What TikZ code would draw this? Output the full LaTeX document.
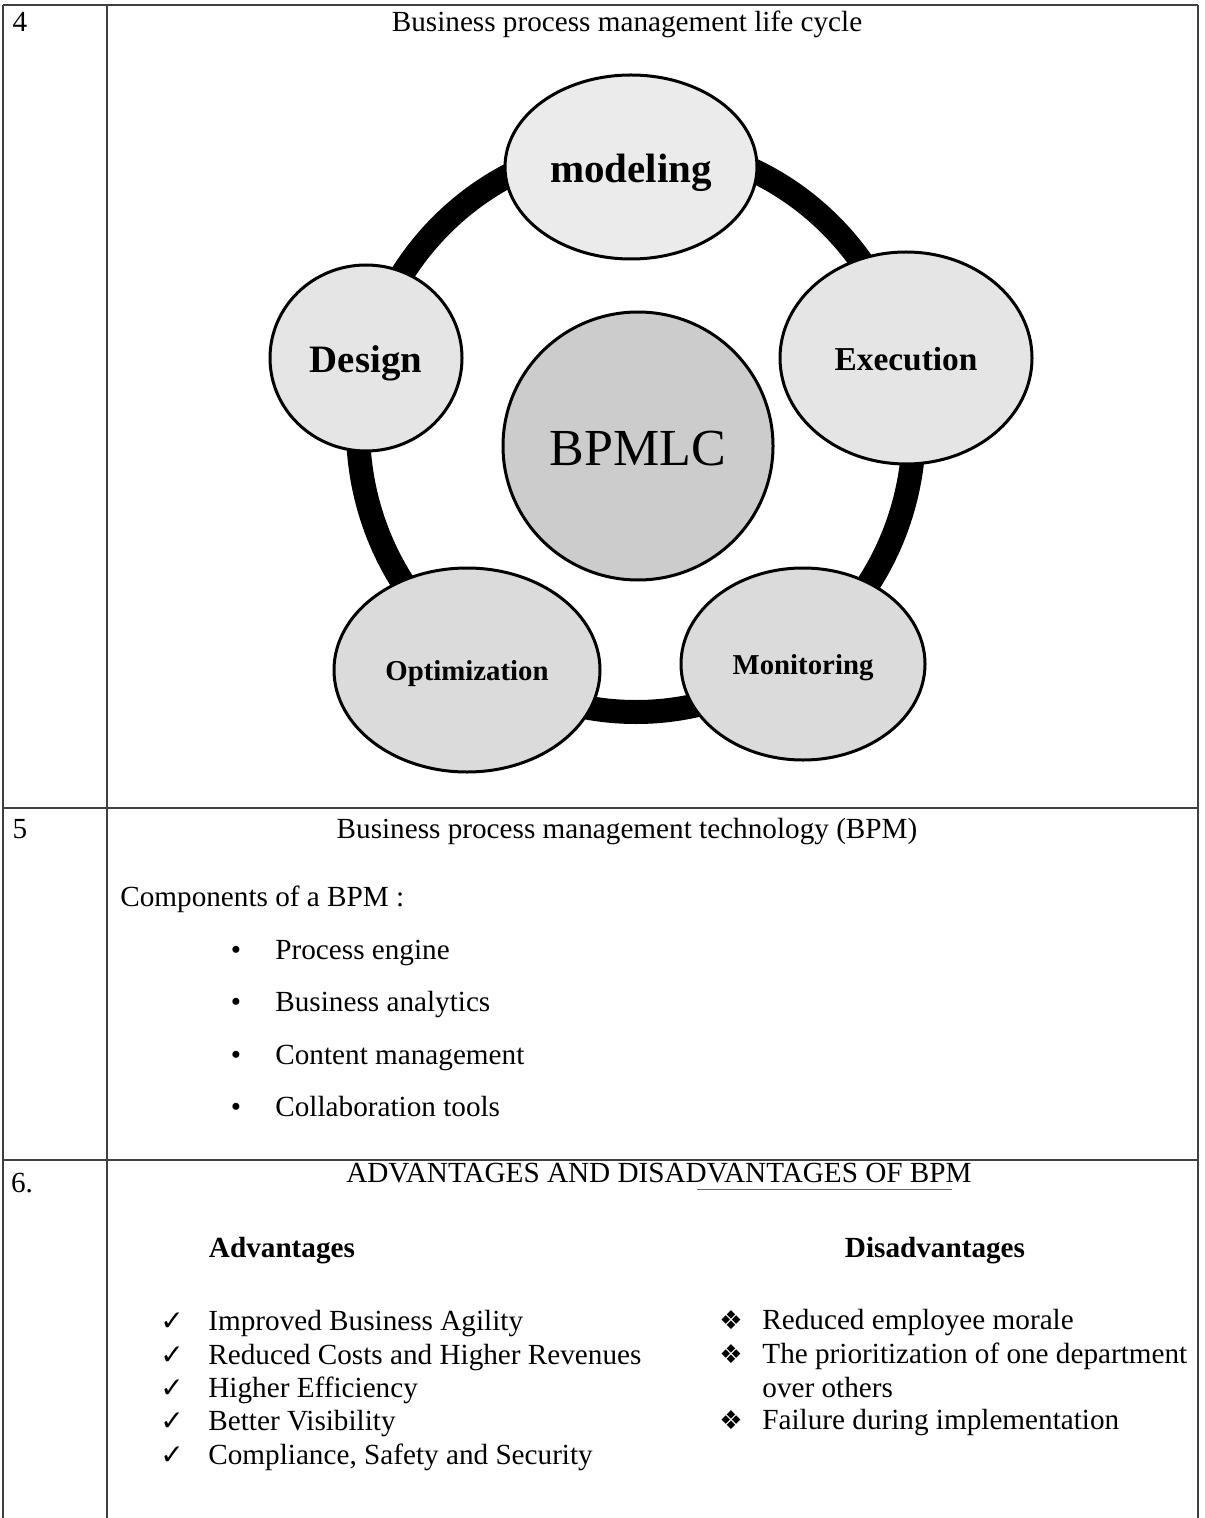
\documentclass[tikz,border=0pt]{standalone}
\usepackage{fontspec}
\setmainfont{Liberation Serif}
\newfontfamily\symfont{DejaVu Sans}
\usetikzlibrary{shapes.geometric}
\begin{document}
\begin{tikzpicture}[x=0.5pt,y=-0.5pt,
  rule/.style={draw=black!75,line width=0.7pt},
  txt/.style={font=\fontsize{14.6}{17}\selectfont,inner sep=0pt,text height=11.3pt,text depth=2.7pt},
  lefttxt/.style={txt,anchor=west},
  phase/.style={ellipse,draw=black,line width=1.5pt,fill=black!10,inner sep=0pt},
  ring/.style={line width=12pt,black},
  hd/.style={txt,font=\fontsize{14.6}{17}\selectfont\bfseries},
  sym/.style={txt,font=\symfont\fontsize{14}{16}\selectfont},
  dia/.style={txt,font=\symfont\fontsize{13}{15}\selectfont}
]
\useasboundingbox[fill=white] (0,0) rectangle (1204,1518);
% table
\draw[rule] (3,5) -- (1198,5);
\draw[rule] (3,808) -- (1198,808);
\draw[rule] (3,1160) -- (1198,1160);
\draw[rule] (3,5) -- (3,1518);
\draw[rule] (107,5) -- (107,1518);
\draw[rule] (1198,5) -- (1198,1518);
% row 4
\node[txt] (n4) at (20,23) {4};
\node[txt] (t4) at (627,23) {Business process management life cycle};
\draw[ring] (636,428) ellipse [x radius=278,y radius=284];
\node[phase,fill=black!8,minimum width=126pt,minimum height=92pt,font=\fontsize{20.5}{22}\selectfont\bfseries,text height=19.5pt,text depth=4.1pt] (mod) at (631,167) {modeling};
\node[phase,minimum width=96pt,minimum height=93pt,font=\fontsize{19.4}{21}\selectfont\bfseries,text height=18.4pt,text depth=3.9pt] (des) at (366,358) {Design};
\node[phase,minimum width=126pt,minimum height=106pt,font=\fontsize{16.7}{18}\selectfont\bfseries,text height=15.9pt,text depth=3.3pt] (exe) at (906,358) {Execution};
\node[phase,fill=black!20,minimum width=135pt,minimum height=134pt,font=\fontsize{26}{28}\selectfont,text height=24.7pt,text depth=5.2pt] (bpm) at (638,446) {BPMLC};
\node[phase,fill=black!14,minimum width=133pt,minimum height=102pt,font=\fontsize{14.4}{16}\selectfont\bfseries,text height=13.7pt,text depth=2.9pt] (opt) at (467,670) {Optimization};
\node[phase,fill=black!14,minimum width=122pt,minimum height=96pt,font=\fontsize{14.4}{16}\selectfont\bfseries,text height=13.7pt,text depth=2.9pt] (mon) at (803,664) {Monitoring};
% row 5
\node[txt] (n5) at (20,830) {5};
\node[txt] (t5) at (627,830) {Business process management technology (BPM)};
\node[lefttxt] (comp) at (120,898) {Components of a BPM :};
\foreach \y/\t [count=\i] in {951/Process engine,1003/Business analytics,1056/Content management,1108/Collaboration tools}{
  \node[txt] (b\i) at (236,\y) {\textbullet};
  \node[lefttxt] (c\i) at (275,\y) {\t};
}
% row 6
\node[txt] (n6) at (22,1184) {6.};
\node[txt] (t6) at (659,1174) {ADVANTAGES AND DISADVANTAGES OF BPM};
\draw[black!60,line width=0.5pt] (697,1189) -- (952,1189);
\node[hd] (adv) at (282,1249) {Advantages};
\node[hd] (dis) at (935,1249) {Disadvantages};
\foreach \y/\t [count=\i] in {1322/Improved Business Agility,1356/Reduced Costs and Higher Revenues,1389/Higher Efficiency,1422/Better Visibility,1456/{Compliance, Safety and Security}}{
  \node[sym] (ck\i) at (172,\y) {✓};
  \node[lefttxt] (a\i) at (208,\y) {\t};
}
\node[dia] (d1s) at (731,1321) {❖};
\node[lefttxt] (d1) at (762,1321) {Reduced employee morale};
\node[dia] (d2s) at (731,1355) {❖};
\node[lefttxt] (d2) at (762,1355) {The prioritization of one department};
\node[lefttxt] (d2b) at (762,1389) {over others};
\node[dia] (d3s) at (731,1421) {❖};
\node[lefttxt] (d3) at (762,1421) {Failure during implementation};
\end{tikzpicture}
\end{document}
